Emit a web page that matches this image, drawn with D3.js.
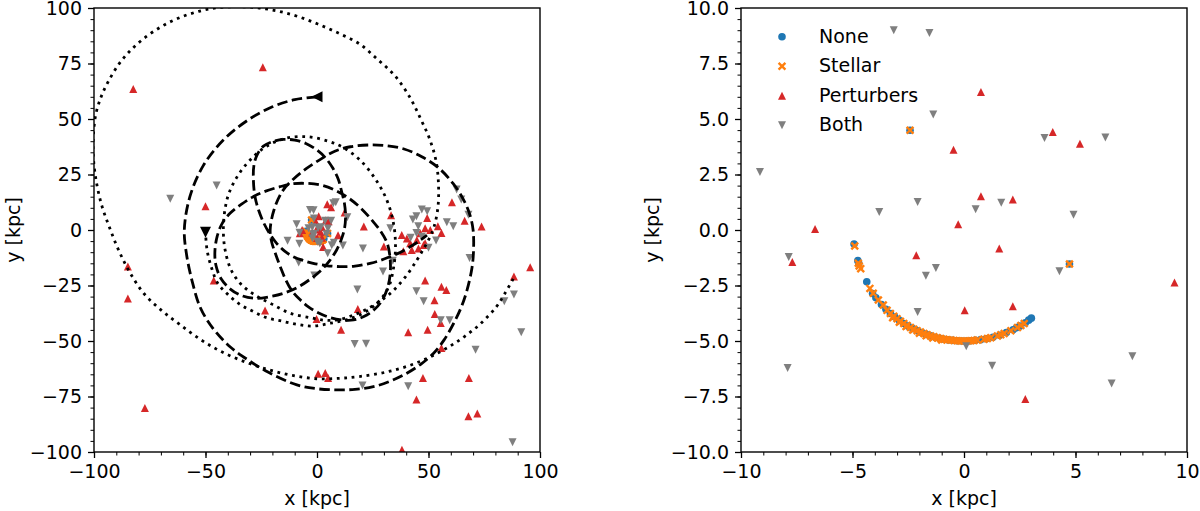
<!DOCTYPE html>
<html><head><meta charset="utf-8">
<script src="https://cdn.jsdelivr.net/npm/d3@7"></script>
<style>body{margin:0;background:#fff}svg{display:block}text{font-family:"DejaVu Sans",sans-serif;fill:#000}</style>
</head><body><svg id="c" width="1200" height="511"></svg>
<script>
// ---------- DATA ----------
const seriesNames = ["None", "Stellar", "Perturbers", "Both"];

const noneXY = [[-4.93,-0.63],[-4.76,-1.38],[-4.72,-1.5],[-4.36,-2.33],[-4.1,-2.86],[-3.95,-3.05],[-3.7,-3.36],[-3.5,-3.57],
 [-3.3,-3.76],[-3.1,-3.92],[-2.9,-4.07],[-2.7,-4.21],[-2.5,-4.33],[-2.3,-4.44],[-2.1,-4.54],[-1.9,-4.62],[-1.7,-4.7],
 [-1.5,-4.77],[-1.3,-4.83],[-1.1,-4.88],[-0.9,-4.92],[-0.7,-4.95],[-0.5,-4.97],[-0.3,-4.99],[-0.1,-5.0],[0.1,-5.0],
 [0.3,-4.99],[0.5,-4.97],[0.75,-4.94],[1.0,-4.9],[1.3,-4.83],[1.6,-4.74],[1.9,-4.62],[2.2,-4.49],[2.35,-4.4],[2.5,-4.33],
 [2.75,-4.18],[2.9,-4.06],[3.02,-3.97],[-2.42,4.49],[4.73,-1.53]];

const stellarXY = [[-4.9,-0.72],[-4.74,-1.5],[-4.7,-1.62],[-4.63,-1.74],[-4.22,-2.63],[-4.07,-2.85],[-3.84,-3.15],[-3.62,-3.38],
 [-3.45,-3.62],[-3.3,-3.76],[-3.15,-3.88],[-3.0,-4.0],[-2.85,-4.11],[-2.7,-4.21],[-2.55,-4.3],[-2.4,-4.39],
 [-2.25,-4.47],[-2.1,-4.54],[-1.95,-4.6],[-1.8,-4.66],[-1.65,-4.72],[-1.5,-4.77],[-1.35,-4.81],[-1.2,-4.85],[-1.05,-4.89],
 [-0.9,-4.92],[-0.75,-4.94],[-0.6,-4.96],[-0.45,-4.98],[-0.3,-4.99],[-0.15,-5.0],[0,-5.0],[0.15,-5.0],[0.3,-4.99],
 [0.45,-4.98],[0.6,-4.96],[0.9,-4.92],[1.05,-4.89],[1.2,-4.85],[1.5,-4.77],[1.65,-4.72],
 [1.8,-4.66],[2.1,-4.54],[2.4,-4.39],[2.55,-4.3],[2.7,-4.21],
 [-3.2,-3.95],[-2.9,-4.15],[-2.6,-4.35],[-2.3,-4.5],[-2.0,-4.65],[-1.7,-4.76],[-1.4,-4.86],[-1.0,-4.95],
 [-2.42,4.49],[4.73,-1.53]];

const perturbersXY = [[0.76,6.22],[3.98,4.41],[5.2,3.89],[-0.47,3.62],[0.76,1.52],[2.19,1.37],[-0.26,0.26],[-6.68,0.05],
 [-7.7,-1.44],[-2.14,-1.14],[1.58,-0.83],[9.44,-2.37],[0.03,-3.62],[2.19,-3.44],[2.75,-7.61],
 [-24.3,73.3],[-82.4,63.5],[-50,10.7],[-84.8,-16.4],[-84.8,-30.8],[-77.2,-80.2],[-46.3,-22.8],[-23.3,-36.3],[-0.2,-40.1],
 [10.8,-44.9],[18.3,-35.6],[21,1.6],[33.2,6.6],[30,-7.4],[4.6,11.6],[6.3,10.2],[12.4,7.9],[38,-2.3],[40.3,-3.8],[41.8,-6],
 [44.8,-4.5],[46.3,-1.5],[48.5,0.8],[47.8,-6.8],[42.5,-9],[45.5,-8.3],[48.5,-6],[50.8,0],[38.7,-9.6],[49.4,5.4],[55.8,-1.4],
 [54.2,1.7],[60.5,12.5],[66.2,4.2],[73.8,1.6],[48.5,-22.7],[55.8,-25.6],[58,-27],[52.7,-31.6],[52.8,-37.8],[55.5,-41.9],
 [49.6,-44.9],[40.9,-46.1],[55.8,-53.2],[47.5,-66.7],[44.6,-76.4],[68.1,-66.7],[67.9,-83.9],[71.9,-82.7],[38.1,-99],
 [88.3,-21],[95.6,-16.8],[0.5,-64.7],[3.7,-64.4],[5,-66.7]];

const bothXY = [[-3.15,9.0],[-1.55,8.87],[-1.38,5.2],[-9.15,2.61],[-2.08,1.26],[-3.8,0.81],[0.52,0.93],[1.67,1.23],
 [4.91,0.69],[3.61,4.14],[6.34,4.17],[-7.86,-1.22],[-1.26,-1.71],[-1.71,-2.06],[4.28,-1.86],[-2.08,-3.69],[0.1,-5.24],
 [1.26,-6.11],[-7.91,-6.22],[7.55,-5.69],[6.62,-6.92],
 [-45,20],[-65.8,14.1],[8.4,12.5],[7.3,12],[13.6,5.7],[-13.2,-4.8],[-8.2,-14.6],[4.8,-10.5],[11.6,-7],[20.6,-8.3],
 [29.6,-18.7],[18.1,-26.8],[-1.2,-20.5],[32.9,0.8],[34,-13.8],[44.6,6.2],[43,4.7],[45.4,1.7],[47,9.2],[49.4,8.4],
 [44.6,-1.4],[53.4,-4.7],[58.2,3.5],[61.1,1.7],[62.6,18.2],[64.7,13.7],[67.9,6.9],[68.4,-12.6],[44.6,-27.6],[47.8,-32.1],
 [55.5,-40.7],[59.5,-40.7],[16.9,-51.4],[22,-51.2],[20.4,-70.1],[40.9,-70.4],[71.1,-53.9],[88.3,-29.1],[84,-32.1],
 [91.6,-46.1],[87.7,-95.6],[42,-3.5],[47,-3],[50,-8]];

// orbit tracks (kpc), dashed starts at the "<" marker, dotted ends at the "v" marker
const dashedOrbit = [[0,60],[-10,58.7],[-20,55.5],[-31,49.5],[-42,40.5],[-51,29],[-57,15],[-59.5,0],[-58.5,-11],[-56,-23],
 [-52.3,-35],[-46.5,-44.5],[-39,-52.6],[-31,-58.5],[-22,-64],[-9,-69.8],[0,-71.5],[8.8,-72],[17,-71.8],[25.3,-70.6],[33,-68],
 [40.3,-64.5],[46.5,-60.5],[52.3,-55.5],[57,-49.5],[61.3,-42],[64.8,-34.5],[67.3,-27],[69.5,-17],[70.2,-9],[70,0],[68.5,7],
 [65.5,14],[61,21],[54.5,28],[47,33],[39,36.5],[31,38],[23,38.3],[15,37.5],[8,35.5],[1,31.5],[-5,27.5],[-10.5,23],
 [-15.5,17.5],[-19.3,9],[-21,0],[-20.3,-5.5],[-18.5,-11],[-16.3,-17],[-14,-22.5],[-11.5,-27],[-8,-31],[-4,-34.5],[1,-37.5],
 [6,-39.5],[11,-40.5],[16.4,-40.5],[21,-39],[25.5,-36],[29,-32],[31.5,-26.5],[32.8,-20],[32.8,-13],[31.5,-6],[28.5,-0.5],
 [25,4],[19.5,10],[14,14.5],[8,18],[2,20.2],[-4.6,21],[-11,20.8],[-16.6,19.5],[-23,17.5],[-28.6,15],[-34,11.5],[-39,7.5],
 [-42.5,3],[-44.8,-3],[-45.8,-10],[-45.3,-16],[-43,-22],[-39,-26.5],[-34,-29.5],[-27.5,-30.8],[-21,-30],[-15,-28.5],[-9,-26],
 [-3.5,-22.5],[1.5,-18.5],[5.5,-14],[8.8,-9],[11,-4],[12.4,1],[12.8,6.5],[12.3,12],[11,17.5],[9.5,23],[7,28],[3.8,32.5],
 [0,36],[-5,39],[-10,40.5],[-15,40.8],[-20,39.8],[-24,37.8],[-26.8,34],[-28.3,29],[-28.5,22],[-27.8,15],[-26.2,9],[-23.8,3],
 [-21,-2],[-18.1,-6],[-14.5,-9.5],[-10.7,-12],[-6,-13.8],[-1.7,-15],[4,-16],[10.3,-16.5],[17,-16.3],[23.8,-15],[28.5,-13.7],
 [32.8,-12],[37.5,-10],[41.8,-7.5],[45.8,-5],[49.3,-2.3]];

const dottedOrbit = [[88,-22],[84,-29],[80.5,-34.5],[73,-42.5],[64,-49.5],[54,-55.5],[43,-60.5],[31,-64],[19,-66],[10,-66.8],
 [0,-67],[-11,-65.5],[-21.5,-63],[-32,-59.5],[-42.5,-55],[-52,-49.5],[-61.6,-42.5],[-70,-36],[-77.7,-28.5],[-84,-19],[-89,-9],
 [-93,1],[-96.5,11],[-99,22],[-100.3,33],[-100.3,42],[-99.2,52],[-96.8,60],[-93.8,66.5],[-89,74.5],[-84,80.5],[-78,86],
 [-70,91.5],[-62,95.5],[-53,98.5],[-44,100.2],[-35,100.6],[-26,100],[-17,98.5],[-8,96],[1,92.5],[10,88.5],[18.8,84],[27,77],
 [34.9,69.5],[41.5,60],[46.5,50],[50.5,41],[53.4,31],[54.5,20],[54.2,10],[52.5,1.5],[50.5,-3.5],[47.8,-8.5],[44.8,-13.5],
 [40.5,-20],[35.5,-26],[30.5,-30.5],[23.8,-34.8],[16.4,-38.3],[9,-40.5],[3,-40.6],[-3,-39.5],[-12,-37.5],[-20,-33.5],
 [-27.5,-29.5],[-34,-24.5],[-38.5,-18],[-41.2,-9],[-42,0],[-41.3,9],[-39.5,16.5],[-35.5,24.5],[-30,31.5],[-23,37.5],
 [-14,41.3],[-4,42],[5,40],[11.5,37.3],[19.3,31.5],[26.5,22.5],[31.5,13],[34.3,3],[35.2,-6.8],[34.5,-16],[32.2,-25.5],
 [28.3,-31.5],[22.3,-36.5],[14.8,-40],[6,-42],[-2,-43.3],[-9,-42.5],[-16,-41],[-22.6,-39.5],[-29,-36.5],[-34.6,-33.5],
 [-40,-29],[-44.5,-24],[-47.3,-17],[-49.3,-9],[-50,-1]];

const leftXTicks = [-100,-50,0,50,100];
const leftYTicks = [-100,-75,-50,-25,0,25,50,75,100];
const rightXTicks = [-10,-5,0,5,10];
const rightYTicks = [-10,-7.5,-5,-2.5,0,2.5,5,7.5,10];

// ---------- RENDER ----------
const svg = d3.select("#c");
const FONT = 19;
const colors = {None:"#1f77b4", Stellar:"#ff7f0e", Perturbers:"#d62728", Both:"#7f7f7f"};
const shapes = {None:"o", Stellar:"x", Perturbers:"^", Both:"v"};
const seriesData = {None:noneXY, Stellar:stellarXY, Perturbers:perturbersXY, Both:bothXY};
const MS = 8;

function markerPath(type, m){
  const h = m/2;
  switch(type){
    case "^": return `M0,${-h}L${-h},${h}L${h},${h}Z`;
    case "v": return `M0,${h}L${-h},${-h}L${h},${-h}Z`;
    case "<": return `M${-h},0L${h},${-h}L${h},${h}Z`;
    case "x": return `M${-h},${-h}L${h},${h}M${-h},${h}L${h},${-h}`;
    case "o": return `M${h},0A${h},${h} 0 1,1 ${-h},0A${h},${h} 0 1,1 ${h},0Z`;
  }
}
function styleMarker(sel, name){
  const t = shapes[name];
  sel.attr("d", markerPath(t, t==="x" ? 6.8 : (t==="o" ? 7.6 : MS)));
  if (t==="x") sel.attr("fill","none").attr("stroke",colors[name]).attr("stroke-width",2.4);
  else sel.attr("fill",colors[name]).attr("stroke","none");
}

const panels = [
  {x0:94, x1:540, y0:8, y1:452, dom:[-100,100], xt:leftXTicks, yt:leftYTicks,
   xm:d3.range(-100,100.01,10), ym:d3.range(-100,100.01,5), fx:d3.format("d"), fy:d3.format("d"), orbits:true, ylabX:19.5},
  {x0:741, x1:1187, y0:8, y1:452, dom:[-10,10], xt:rightXTicks, yt:rightYTicks,
   xm:d3.range(-10,10.01,1), ym:d3.range(-10,10.01,0.5), fx:d3.format("d"), fy:d3.format(".1f"), orbits:false, legend:true, ylabX:659}
];

const defs = svg.append("defs");

panels.forEach((p,i)=>{
  const x = d3.scaleLinear().domain(p.dom).range([p.x0,p.x1]);
  const y = d3.scaleLinear().domain(p.dom).range([p.y1,p.y0]);
  defs.append("clipPath").attr("id","clip"+i).append("rect")
    .attr("x",p.x0).attr("y",p.y0).attr("width",p.x1-p.x0).attr("height",p.y1-p.y0);
  const plot = svg.append("g").attr("clip-path",`url(#clip${i})`);

  seriesNames.forEach(name=>{
    plot.append("g").selectAll("path").data(seriesData[name]).join("path")
      .attr("transform",d=>`translate(${x(d[0])},${y(d[1])})`)
      .call(styleMarker, name);
  });

  if (p.orbits){
    const line = d3.line().x(d=>x(d[0])).y(d=>y(d[1])).curve(d3.curveCatmullRom.alpha(0.5));
    plot.append("path").datum(dashedOrbit).attr("d",line).attr("fill","none")
      .attr("stroke","#000").attr("stroke-width",2.8).attr("stroke-dasharray","10.5,4.5");
    plot.append("path").datum(dottedOrbit).attr("d",line).attr("fill","none")
      .attr("stroke","#000").attr("stroke-width",2.8).attr("stroke-dasharray","2.8,4.7");
    const s = dashedOrbit[0], e = dottedOrbit[dottedOrbit.length-1];
    plot.append("path").attr("d",markerPath("<",11)).attr("transform",`translate(${x(s[0])},${y(s[1])})`).attr("fill","#000");
    plot.append("path").attr("d",markerPath("v",11)).attr("transform",`translate(${x(e[0])},${y(e[1])})`).attr("fill","#000");
  }

  // axes
  const ax = svg.append("g");
  const gx = ax.append("g").attr("transform",`translate(0,${p.y1})`)
    .call(d3.axisBottom(x).tickValues(p.xt).tickFormat(p.fx).tickSize(6).tickSizeOuter(0).tickPadding(7));
  const gxm = ax.append("g").attr("transform",`translate(0,${p.y1})`)
    .call(d3.axisBottom(x).tickValues(p.xm).tickFormat("").tickSize(3.5).tickSizeOuter(0));
  const gy = ax.append("g").attr("transform",`translate(${p.x0},0)`)
    .call(d3.axisLeft(y).tickValues(p.yt).tickFormat(p.fy).tickSize(6).tickSizeOuter(0).tickPadding(6));
  const gym = ax.append("g").attr("transform",`translate(${p.x0},0)`)
    .call(d3.axisLeft(y).tickValues(p.ym).tickFormat("").tickSize(3.5).tickSizeOuter(0));
  [gx,gxm,gy,gym].forEach(g=>{
    g.select(".domain").remove();
    g.selectAll("line").attr("stroke","#000").attr("stroke-width",1.3);
    g.selectAll("text").attr("font-size",FONT).attr("font-family","DejaVu Sans").attr("fill","#000");
  });
  gxm.selectAll("line").attr("stroke-width",1);
  gym.selectAll("line").attr("stroke-width",1);

  svg.append("rect").attr("x",p.x0).attr("y",p.y0).attr("width",p.x1-p.x0).attr("height",p.y1-p.y0)
    .attr("fill","none").attr("stroke","#000").attr("stroke-width",1.4);

  svg.append("text").attr("x",(p.x0+p.x1)/2).attr("y",505).attr("text-anchor","middle")
    .attr("font-size",FONT).text("x [kpc]");
  svg.append("text").attr("transform",`translate(${p.ylabX},${(p.y0+p.y1)/2}) rotate(-90)`)
    .attr("text-anchor","middle").attr("font-size",FONT).text("y [kpc]");

  if (p.legend){
    const lg = svg.append("g");
    const rowsY = [36.7, 66.2, 95.7, 125.2];
    seriesNames.forEach((name,k)=>{
      lg.append("path").attr("transform",`translate(782,${rowsY[k]})`).call(styleMarker,name);
      lg.append("text").attr("x",819).attr("y",rowsY[k]+6).attr("font-size",FONT).text(name);
    });
  }
});
</script>
</body></html>
